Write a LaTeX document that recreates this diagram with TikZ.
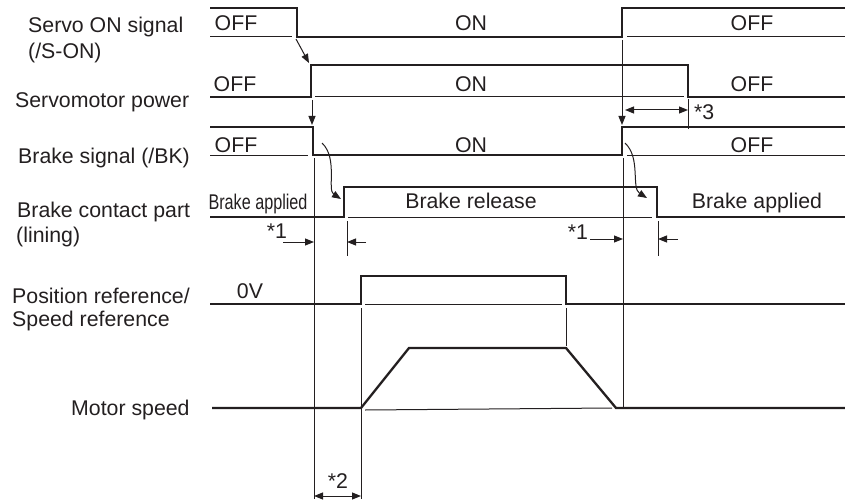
\documentclass[tikz,border=0pt]{standalone}
\usepackage{fontspec}
\setmainfont{Liberation Sans}
\usetikzlibrary{arrows.meta}
\definecolor{ink}{HTML}{231F20}
\begin{document}
\begin{tikzpicture}[x=1pt,y=-1pt, color=ink,
  sig/.style={line width=2.3pt, line join=miter, line cap=butt},
  thin/.style={line width=1pt},
  arr/.style={line width=1pt, -{Triangle[length=9pt,width=7pt]}},
  darr/.style={line width=1pt, {Triangle[length=9pt,width=7pt]}-{Triangle[length=9pt,width=7pt]}},
  lbl/.style={font=\fontsize{21.3}{25}\selectfont, text=ink, inner sep=0pt, anchor=base west},
  st/.style={font=\fontsize{21.3}{25}\selectfont, text=ink, inner sep=0pt, anchor=base}
]
\useasboundingbox (0,0) rectangle (845,500);

% left labels
\node[lbl] (l1a) at (28,33) {Servo ON signal};
\node[lbl] (l1b) at (28,59) {(/S-ON)};
\node[lbl] (l2) at (15,108) {Servomotor power};
\node[lbl] (l3) at (18,163) {Brake signal (/BK)};
\node[lbl] (l4a) at (17,217) {Brake contact part};
\node[lbl] (l4b) at (16,242) {(lining)};
\node[lbl] (l5a) at (12,303) {Position reference/};
\node[lbl] (l5b) at (12,326) {Speed reference};
\node[lbl] (l6) at (71,415) {Motor speed};

% Row 1: Servo ON signal
\draw[sig] (210,8) -- (297,8) -- (297,37) -- (622,37) -- (622,8) -- (845,8);
\draw[thin] (210,37) -- (292,37);
\draw[thin] (627,37) -- (845,37);
\node[st] (t1a) at (236,31) {OFF};
\node[st] (t1b) at (471,31) {ON};
\node[st] (t1c) at (752,31) {OFF};

% Row 2: Servomotor power
\draw[sig] (210,97) -- (311,97) -- (311,65) -- (688,65) -- (688,97) -- (845,97);
\draw[thin] (315,97) -- (684,97);
\node[st] (t2a) at (235,92) {OFF};
\node[st] (t2b) at (471,92) {ON};
\node[st] (t2c) at (752,92) {OFF};

% Row 3: Brake signal
\draw[sig] (210,127) -- (313,127) -- (313,155) -- (622,155) -- (622,127) -- (845,127);
\draw[thin] (210,155) -- (308,155);
\draw[thin] (627,155) -- (845,155);
\node[st] (t3a) at (236,152) {OFF};
\node[st] (t3b) at (471,152) {ON};
\node[st] (t3c) at (752,152) {OFF};

% Row 4: Brake contact part
\draw[sig] (210,217) -- (344,217) -- (344,187) -- (657,187) -- (657,217) -- (845,217);
\draw[thin] (348,217) -- (652,217);
\node[st] (t4a) at (258,209) {\scalebox{0.76}[1]{Brake applied}};
\node[st] (t4b) at (471,208) {Brake release};
\node[st] (t4c) at (757,208) {Brake applied};

% Row 5: Position reference
\draw[sig] (210,304) -- (361,304) -- (361,276) -- (566,276) -- (566,304) -- (845,304);
\draw[thin] (365,304) -- (562,304);
\node[st] (t5) at (250,298) {0V};

% Row 6: Motor speed
\draw[sig] (212,408) -- (361,408) -- (409,348) -- (566,348) -- (616,408) -- (845,408);
\draw[thin] (365,410) -- (612,408);

% guide lines
\draw[thin] (314,158) -- (314,499);
\draw[thin] (347,221) -- (347,256);
\draw[thin] (361,308) -- (361,499);
\draw[thin] (566,308) -- (566,346);
\draw[thin] (623,158) -- (623,407);
\draw[thin] (658,221) -- (658,256);
\draw[thin] (688,99) -- (688,129);

% causal arrows
\coordinate (a1s) at (296,39);
\coordinate (a1e) at (309,63);
\draw[arr] (a1s) -- (a1e);
\coordinate (a2s) at (312,100);
\coordinate (a2e) at (312,125);
\draw[arr] (a2s) -- (a2e);
\coordinate (a3s) at (622,40);
\coordinate (a3e) at (622,125);
\draw[arr] (a3s) -- (a3e);
\coordinate (c1s) at (322,143);
\coordinate (c1e) at (341,199);
\draw[arr] (c1s) .. controls (338,158) and (327,190) .. (c1e);
\coordinate (c2s) at (625,143);
\coordinate (c2e) at (647,198);
\draw[arr] (c2s) .. controls (641,158) and (631,188) .. (c2e);

% *1 left
\coordinate (p1a) at (283,242);
\coordinate (p1b) at (314,242);
\draw[arr] (p1a) -- (p1b);
\coordinate (p1c) at (366,242);
\coordinate (p1d) at (347,242);
\draw[arr] (p1c) -- (p1d);
\node[st] (s1a) at (277,238) {*1};

% *1 right
\coordinate (p2a) at (590,239);
\coordinate (p2b) at (623,239);
\draw[arr] (p2a) -- (p2b);
\coordinate (p2c) at (678,239);
\coordinate (p2d) at (658,239);
\draw[arr] (p2c) -- (p2d);
\node[st] (s1b) at (578,239) {*1};

% *2
\coordinate (q1) at (314,496);
\coordinate (q2) at (361,496);
\draw[darr] (q1) -- (q2);
\node[st] (s2) at (338,488) {*2};

% *3
\coordinate (r1) at (625,110);
\coordinate (r2) at (688,110);
\draw[darr] (r1) -- (r2);
\node[lbl] (s3) at (694,120) {*3};
\end{tikzpicture}
\end{document}
